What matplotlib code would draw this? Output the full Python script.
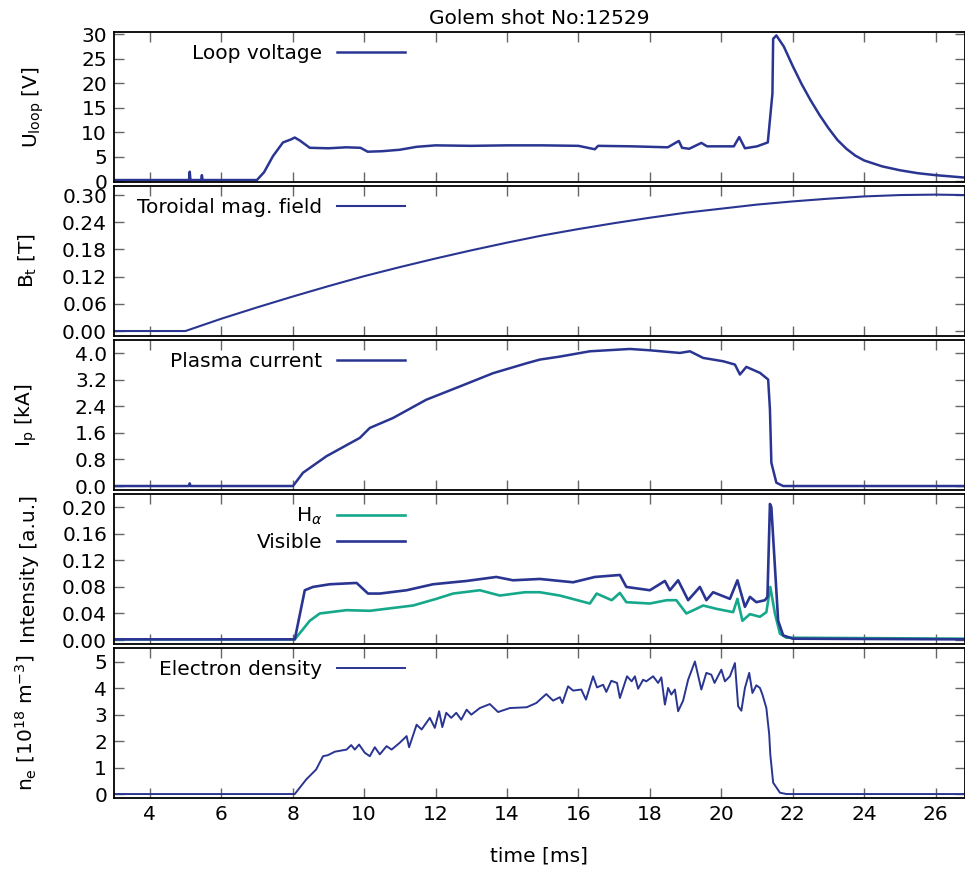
import matplotlib
matplotlib.use("Agg")
import matplotlib.pyplot as plt
from matplotlib.ticker import MultipleLocator, FormatStrFormatter

BLUE = "#2a3592"
TEAL = "#16a88a"

# loop voltage [V]
t_u = [3.0, 5.10, 5.12, 5.14, 5.44, 5.46, 5.48, 7.0, 7.2, 7.45, 7.73, 7.95, 8.06,
       8.2, 8.48, 9.0, 9.5, 9.9, 10.1, 10.5, 11.0, 11.47, 12.0, 13.0, 14.0, 15.0,
       16.0, 16.46, 16.55, 17.5, 18.5, 18.81, 18.9, 19.1, 19.44, 19.6, 20.0, 20.35,
       20.5, 20.66, 21.0, 21.3, 21.43, 21.45, 21.54, 21.75, 22.0, 22.25, 22.5,
       22.75, 23.0, 23.25, 23.5, 23.75, 24.0, 24.5, 25.0, 25.5, 26.0, 26.82]
u_loop = [0.2, 0.2, 1.9, 0.2, 0.2, 1.2, 0.2, 0.2, 1.8, 5.1, 7.9, 8.5, 8.9,
          8.3, 6.8, 6.7, 6.9, 6.8, 6.0, 6.1, 6.4, 7.0, 7.3, 7.2, 7.3, 7.3,
          7.2, 6.5, 7.2, 7.1, 6.9, 8.2, 6.8, 6.6, 7.8, 7.1, 7.1, 7.1,
          9.0, 6.7, 7.1, 7.9, 17.9, 29.1, 29.8, 27.5, 23.5, 19.8, 16.5,
          13.5, 10.8, 8.4, 6.6, 5.2, 4.2, 3.0, 2.2, 1.6, 1.2, 0.7]

# toroidal field [T]
t_b = [3.0, 5.0, 6, 7, 8, 9, 10, 11, 12, 13, 14, 15, 16, 17, 18, 19, 20, 21, 22,
       23, 24, 25, 26, 26.82]
b_t = [0.0, 0.0, 0.027, 0.052, 0.076, 0.099, 0.121, 0.141, 0.160, 0.178, 0.195,
       0.211, 0.225, 0.238, 0.250, 0.261, 0.270, 0.279, 0.286, 0.292, 0.297,
       0.300, 0.301, 0.300]

# plasma current [kA]
t_i = [3.0, 5.10, 5.12, 5.14, 8.01, 8.29, 8.95, 9.88, 10.16, 10.81, 11.74, 12.68,
       13.61, 14.55, 14.92, 15.48, 16.32, 17.44, 18.0, 18.84, 19.12, 19.49, 20.05,
       20.38, 20.52, 20.7, 21.08, 21.31, 21.36, 21.40, 21.54, 21.73, 26.82]
i_p = [0.0, 0.0, 0.08, 0.0, 0.0, 0.40, 0.90, 1.45, 1.75, 2.05, 2.6, 3.0,
       3.4, 3.7, 3.81, 3.9, 4.06, 4.13, 4.09, 4.01, 4.06, 3.86, 3.76,
       3.66, 3.36, 3.59, 3.41, 3.21, 2.31, 0.70, 0.10, 0.0, 0.0]

# visible intensity [a.u.]
t_vis = [3.0, 8.06, 8.34, 8.57, 9.04, 9.79, 10.11, 10.44, 11.19, 11.93, 12.49,
         12.87, 13.70, 14.17, 14.92, 15.85, 16.46, 17.16, 17.34, 18.0, 18.42,
         18.56, 18.79, 19.07, 19.40, 19.58, 19.77, 20.24, 20.45, 20.66, 20.80,
         20.98, 21.22, 21.29, 21.36, 21.40, 21.50, 21.59, 21.73, 22.0, 26.82]
vis = [0.001, 0.001, 0.075, 0.080, 0.084, 0.086, 0.070, 0.070, 0.075, 0.084, 0.087,
       0.089, 0.095, 0.090, 0.092, 0.087, 0.095, 0.098, 0.080, 0.075, 0.089,
       0.075, 0.090, 0.060, 0.080, 0.060, 0.072, 0.062, 0.090, 0.050, 0.065,
       0.057, 0.060, 0.065, 0.205, 0.200, 0.110, 0.029, 0.007, 0.002, 0.001]

# H-alpha intensity [a.u.]
t_ha = [3.0, 8.06, 8.48, 8.76, 9.51, 10.16, 11.37, 12.02, 12.49, 13.24, 13.80,
        14.5, 14.92, 15.48, 16.32, 16.51, 16.93, 17.16, 17.34, 18.0, 18.47, 18.74,
        19.02, 19.30, 19.49, 19.86, 20.33, 20.45, 20.59, 20.80, 21.08, 21.26,
        21.37, 21.50, 21.64, 21.82, 26.82]
h_alpha = [0.001, 0.001, 0.029, 0.040, 0.045, 0.044, 0.052, 0.062, 0.070, 0.075,
           0.067, 0.072, 0.072, 0.067, 0.055, 0.070, 0.060, 0.071, 0.057, 0.055,
           0.060, 0.060, 0.040, 0.047, 0.052, 0.047, 0.042, 0.062, 0.029, 0.039,
           0.035, 0.042, 0.080, 0.040, 0.0095, 0.0035, 0.002]

# electron density [1e18 m^-3]
t_n = [3.0, 8.06, 8.38, 8.66, 8.85, 8.99, 9.18, 9.51, 9.64, 9.74, 9.86, 10.02,
       10.16, 10.30, 10.44, 10.63, 10.77, 11.0, 11.19, 11.26, 11.47, 11.61, 11.84,
       11.98, 12.10, 12.19, 12.30, 12.44, 12.58, 12.72, 12.87, 13.0, 13.24, 13.52,
       13.75, 14.08, 14.55, 14.82, 15.10, 15.29, 15.48, 15.55, 15.71, 15.85,
       16.08, 16.21, 16.41, 16.52, 16.69, 16.78, 16.92, 17.08, 17.16, 17.36,
       17.49, 17.58, 17.67, 17.81, 17.90, 18.09, 18.23, 18.32, 18.42, 18.51,
       18.60, 18.70, 18.79, 18.93, 19.07, 19.26, 19.44, 19.58, 19.72, 19.81,
       20.0, 20.10, 20.24, 20.38, 20.47, 20.56, 20.66, 20.78, 20.87, 20.98,
       21.08, 21.15, 21.26, 21.34, 21.37, 21.45, 21.64, 21.82, 26.82]
n_e = [0.0, 0.0, 0.55, 0.93, 1.43, 1.47, 1.60, 1.68, 1.85, 1.68, 1.87, 1.56,
       1.43, 1.77, 1.50, 1.81, 1.68, 1.94, 2.19, 1.77, 2.62, 2.44, 2.88,
       2.50, 3.13, 2.53, 3.07, 2.88, 3.07, 2.81, 3.19, 3.0, 3.25, 3.40,
       3.10, 3.25, 3.28, 3.44, 3.78, 3.53, 3.66, 3.44, 4.07, 3.91,
       3.95, 3.57, 4.45, 4.03, 4.13, 3.86, 4.28, 4.20, 3.63, 4.45,
       4.26, 4.45, 3.98, 4.32, 4.26, 4.45, 4.20, 4.41, 3.38, 4.01,
       3.76, 3.95, 3.13, 3.53, 4.32, 5.01, 3.95, 4.58, 4.51, 4.20,
       4.70, 4.26, 4.45, 4.95, 3.32, 3.15, 4.01, 4.58, 3.82, 4.11,
       4.01, 3.76, 3.25, 2.25, 1.50, 0.43, 0.05, 0.0, 0.0]

W, H = 965, 871
FS = 14.5
fig = plt.figure(figsize=(W / 100, H / 100), dpi=100)

left, right = 114, 965
tops = [32, 186, 340, 494, 648]
ph = 150


def make_ax(top):
    ax = fig.add_axes([left / W, 1 - (top + ph) / H, (right - left) / W, ph / H])
    ax.set_xlim(3, 26.82)
    ax.xaxis.set_major_locator(MultipleLocator(2))
    ax.tick_params(direction="in", top=True, right=True, length=7, width=1,
                   color="#666666", labelsize=FS, pad=5)
    for s in ax.spines.values():
        s.set_linewidth(1.3)
    ax.yaxis.set_label_coords(-0.088, 0.5)
    return ax


def leg(ax):
    ax.legend(loc="upper right", bbox_to_anchor=(0.342, 1 - 12 / ph),
              markerfirst=False, frameon=False, handlelength=3.4,
              handletextpad=0.7, borderpad=0, borderaxespad=0,
              fontsize=FS, labelspacing=0.3)


axes = [make_ax(t) for t in tops]

ax = axes[0]
ax.plot(t_u, u_loop, color=BLUE, lw=1.8, label="Loop voltage")
ax.set_ylim(-0.2, 30.5)
ax.yaxis.set_major_locator(MultipleLocator(5))
ax.set_ylabel(r"U$_\mathrm{loop}$ [V]", fontsize=FS)
ax.yaxis.set_label_coords(-0.08, 0.5)
ax.set_title("Golem shot No:12529", fontsize=FS, pad=6)
leg(ax)

ax = axes[1]
ax.plot(t_b, b_t, color=BLUE, lw=1.5, label="Toroidal mag. field")
ax.set_ylim(-0.011, 0.32)
ax.yaxis.set_major_locator(MultipleLocator(0.06))
ax.yaxis.set_major_formatter(FormatStrFormatter("%.2f"))
ax.set_ylabel(r"B$_\mathrm{t}$ [T]", fontsize=FS)
leg(ax)

ax = axes[2]
ax.plot(t_i, i_p, color=BLUE, lw=1.8, label="Plasma current")
ax.set_ylim(-0.12, 4.4)
ax.yaxis.set_major_locator(MultipleLocator(0.8))
ax.yaxis.set_major_formatter(FormatStrFormatter("%.1f"))
ax.set_ylabel(r"I$_\mathrm{p}$ [kA]", fontsize=FS)
leg(ax)

ax = axes[3]
ax.plot(t_ha, h_alpha, color=TEAL, lw=1.9, label=r"H$_\alpha$")
ax.plot(t_vis, vis, color=BLUE, lw=1.9, label="Visible")
ax.set_ylim(-0.006, 0.22)
ax.yaxis.set_major_locator(MultipleLocator(0.04))
ax.yaxis.set_major_formatter(FormatStrFormatter("%.2f"))
ax.set_ylabel("Intensity [a.u.]", fontsize=FS)
leg(ax)

ax = axes[4]
ax.plot(t_n, n_e, color=BLUE, lw=1.4, label="Electron density")
ax.set_ylim(-0.15, 5.52)
ax.yaxis.set_major_locator(MultipleLocator(1))
ax.set_ylabel(r"n$_\mathrm{e}$ [10$^{18}$ m$^{-3}$]", fontsize=FS)
ax.set_xlabel("time [ms]", fontsize=FS, labelpad=16)
leg(ax)

for ax in axes[:-1]:
    ax.tick_params(labelbottom=False)

fig.savefig("out.png", dpi=100)
